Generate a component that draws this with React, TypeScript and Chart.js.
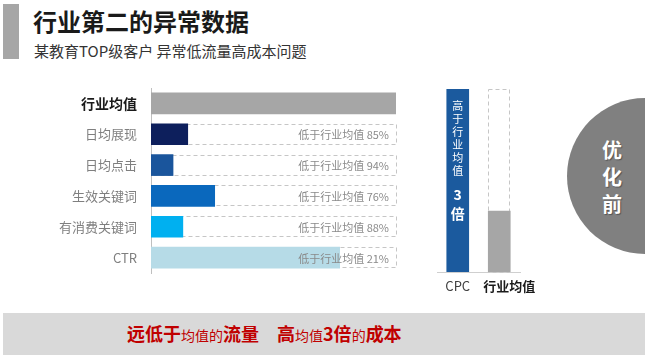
import React, { useEffect, useRef } from "react";
import { Chart, registerables } from "chart.js";

Chart.register(...registerables);

// ---------- data ----------
const leftCategories = ["行业均值", "日均展现", "日均点击", "生效关键词", "有消费关键词", "CTR"];
const leftValues = [100, 15, 9, 26, 13, 77];
const leftNotes = ["", "低于行业均值 85%", "低于行业均值 94%", "低于行业均值 76%", "低于行业均值 88%", "低于行业均值 21%"];
const leftColors = ["#a6a6a6", "#0d1f5c", "#1a559c", "#0a68bd", "#00b0f0", "#b6dbe7"];

const rightCategories = ["CPC", "行业均值"];
const rightValues = [3, 1];
const rightMax = 3;
const rightColors = ["#1b5a9e", "#a6a6a6"];
const cpcNoteChars = ["高", "于", "行", "业", "均", "值"];
const cpcMultipleChars = ["3", "倍"];

const FONT = "'Noto Sans CJK SC', 'Noto Sans', sans-serif";

const leftPlugin = {
  id: "leftDecor",
  beforeDatasetsDraw(chart: any) {
    const { ctx } = chart;
    const xs = chart.scales.x;
    const meta = chart.getDatasetMeta(0);
    ctx.save();
    ctx.setLineDash([4, 3]);
    ctx.strokeStyle = "#c6c6c6";
    ctx.lineWidth = 1;
    meta.data.forEach((bar: any, i: number) => {
      if (!leftNotes[i]) return;
      const h = bar.height;
      const x0 = xs.getPixelForValue(0);
      const x1 = xs.getPixelForValue(100);
      ctx.strokeRect(Math.round(x0) + 0.5, Math.round(bar.y - h / 2) + 0.5, Math.round(x1 - x0), Math.round(h) - 1);
    });
    ctx.restore();
  },
  afterDatasetsDraw(chart: any) {
    const { ctx } = chart;
    const xs = chart.scales.x;
    const meta = chart.getDatasetMeta(0);
    ctx.save();
    ctx.fillStyle = "#8a8a8a";
    ctx.font = `11px ${FONT}`;
    ctx.textAlign = "right";
    ctx.textBaseline = "middle";
    meta.data.forEach((bar: any, i: number) => {
      if (!leftNotes[i]) return;
      ctx.fillText(leftNotes[i], xs.getPixelForValue(100) - 7, bar.y + 1);
    });
    ctx.restore();
  },
};

const rightPlugin = {
  id: "rightDecor",
  beforeDatasetsDraw(chart: any) {
    const { ctx } = chart;
    const ys = chart.scales.y;
    const meta = chart.getDatasetMeta(0);
    const bar: any = meta.data[1];
    if (!bar) return;
    const w = bar.width;
    const top = ys.getPixelForValue(rightMax);
    const bottom = ys.getPixelForValue(0);
    ctx.save();
    ctx.setLineDash([4, 3]);
    ctx.strokeStyle = "#c6c6c6";
    ctx.lineWidth = 1;
    ctx.strokeRect(Math.round(bar.x - w / 2) + 0.5, Math.round(top) + 0.5, Math.round(w) - 1, Math.round(bottom - top));
    ctx.restore();
  },
  afterDatasetsDraw(chart: any) {
    const { ctx } = chart;
    const meta = chart.getDatasetMeta(0);
    const bar: any = meta.data[0];
    if (!bar) return;
    ctx.save();
    ctx.fillStyle = "#ffffff";
    ctx.textAlign = "center";
    ctx.textBaseline = "middle";
    ctx.font = `11px ${FONT}`;
    cpcNoteChars.forEach((c, i) => {
      ctx.fillText(c, bar.x, bar.y + 17 + i * 13);
    });
    ctx.font = `bold 14px ${FONT}`;
    cpcMultipleChars.forEach((c, i) => {
      ctx.fillText(c, bar.x, bar.y + 106 + i * 19);
    });
    // category labels under the baseline
    const ys = chart.scales.y;
    const base = ys.getPixelForValue(0);
    ctx.textBaseline = "middle";
    meta.data.forEach((b: any, i: number) => {
      if (i === 0) {
        ctx.font = `13px ${FONT}`;
        ctx.fillStyle = "#404040";
        ctx.textAlign = "center";
        ctx.fillText(rightCategories[i], b.x, base + 14);
      } else {
        ctx.font = `bold 13px ${FONT}`;
        ctx.fillStyle = "#1a1a1a";
        ctx.textAlign = "left";
        ctx.fillText(rightCategories[i], b.x - b.width / 2 - 5, base + 14);
      }
    });
    ctx.restore();
  },
};

function LeftChart() {
  const ref = useRef<HTMLCanvasElement>(null);
  useEffect(() => {
    if (!ref.current) return;
    const chart = new Chart(ref.current, {
      type: "bar",
      data: {
        labels: leftCategories,
        datasets: [{ data: leftValues, backgroundColor: leftColors, barThickness: 21 } as any],
      },
      options: {
        indexAxis: "y",
        animation: false,
        responsive: false,
        layout: { padding: { top: 8, bottom: 6, right: 24, left: 0 } },
        plugins: { legend: { display: false }, tooltip: { enabled: false } },
        scales: {
          x: { display: false, min: 0, max: 100 },
          y: {
            grid: {
              display: true,
              drawOnChartArea: false,
              drawTicks: true,
              tickLength: 14,
              color: "rgba(0,0,0,0)",
            },
            border: { display: true, color: "#bfbfbf" },
            ticks: {
              padding: 0,
              autoSkip: false,
              color: (c: any) => (c.index === 0 ? "#1a1a1a" : "#7f7f7f"),
              font: (c: any) =>
                c.index === 0
                  ? { family: FONT, size: 14, weight: "bold", lineHeight: 1 }
                  : { family: FONT, size: 13, weight: "normal", lineHeight: 1 },
            },
            afterFit: (s: any) => {
              s.width = 151;
            },
          } as any,
        },
      },
      plugins: [leftPlugin],
    });
    return () => chart.destroy();
  }, []);
  return (
    <canvas
      ref={ref}
      width={420}
      height={200}
      style={{ position: "absolute", left: 0, top: 80, width: 420, height: 200, display: "block" }}
    />
  );
}

function RightChart() {
  const ref = useRef<HTMLCanvasElement>(null);
  useEffect(() => {
    if (!ref.current) return;
    const chart = new Chart(ref.current, {
      type: "bar",
      data: {
        labels: rightCategories,
        datasets: [{ data: rightValues, backgroundColor: rightColors, barThickness: 22 } as any],
      },
      options: {
        animation: false,
        responsive: false,
        layout: { padding: { top: 9, bottom: 0, right: 30, left: 17 } },
        plugins: { legend: { display: false }, tooltip: { enabled: false } },
        scales: {
          y: { display: false, min: 0, max: rightMax },
          x: {
            grid: { display: false, drawTicks: false },
            border: { display: true, color: "#cfcfcf" },
            ticks: {
              padding: 6,
              autoSkip: false,
              maxRotation: 0,
              minRotation: 0,
              color: "rgba(0,0,0,0)",
              font: { family: FONT, size: 13, weight: "bold" },
            },
            afterFit: (s: any) => {
              s.height = 38;
            },
          } as any,
        },
      },
      plugins: [rightPlugin],
    });
    return () => chart.destroy();
  }, []);
  return (
    <canvas
      ref={ref}
      width={130}
      height={230}
      style={{ position: "absolute", left: 420, top: 80, width: 130, height: 230, display: "block" }}
    />
  );
}

export default function App() {
  const big: React.CSSProperties = { fontSize: 18, fontWeight: "bold" };
  const small: React.CSSProperties = { fontSize: 14, fontWeight: "normal" };
  return (
    <div
      style={{
        position: "absolute",
        left: 0,
        top: 0,
        width: 645,
        height: 355,
        overflow: "hidden",
        background: "#ffffff",
        fontFamily: FONT,
      }}
    >
      <div style={{ position: "absolute", left: 3, top: 4, width: 16, height: 55, background: "#a6a6a6" }} />
      <div
        style={{
          position: "absolute",
          left: 33,
          top: 8,
          fontSize: 24,
          lineHeight: "26px",
          fontWeight: "bold",
          color: "#1a1a1a",
          whiteSpace: "nowrap",
        }}
      >
        行业第二的异常数据
      </div>
      <div
        style={{
          position: "absolute",
          left: 34,
          top: 41,
          fontSize: 15,
          lineHeight: "20px",
          color: "#333333",
          whiteSpace: "nowrap",
        }}
      >
        某教育TOP级客户 异常低流量高成本问题
      </div>

      <LeftChart />
      <RightChart />

      <div
        style={{
          position: "absolute",
          left: 567,
          top: 98,
          width: 156,
          height: 156,
          borderRadius: "50%",
          background: "#808080",
        }}
      />
      <div
        style={{
          position: "absolute",
          left: 600,
          top: 136,
          width: 24,
          fontSize: 20,
          lineHeight: "27px",
          fontWeight: "bold",
          color: "#ffffff",
          textAlign: "center",
          textShadow: "1px 1px 1px rgba(0,0,0,0.35)",
        }}
      >
        优<br />化<br />前
      </div>

      <div style={{ position: "absolute", left: 3, top: 313, width: 642, height: 42, background: "#d9d9d9" }} />
      <div
        style={{
          position: "absolute",
          left: 127,
          top: 320,
          lineHeight: "26px",
          color: "#c00000",
          whiteSpace: "nowrap",
        }}
      >
        <span style={big}>远低于</span>
        <span style={small}>均值的</span>
        <span style={big}>流量</span>
        <span style={{ ...big, marginLeft: 18 }}>高</span>
        <span style={small}>均值</span>
        <span style={big}>3倍</span>
        <span style={small}>的</span>
        <span style={big}>成本</span>
      </div>
    </div>
  );
}
